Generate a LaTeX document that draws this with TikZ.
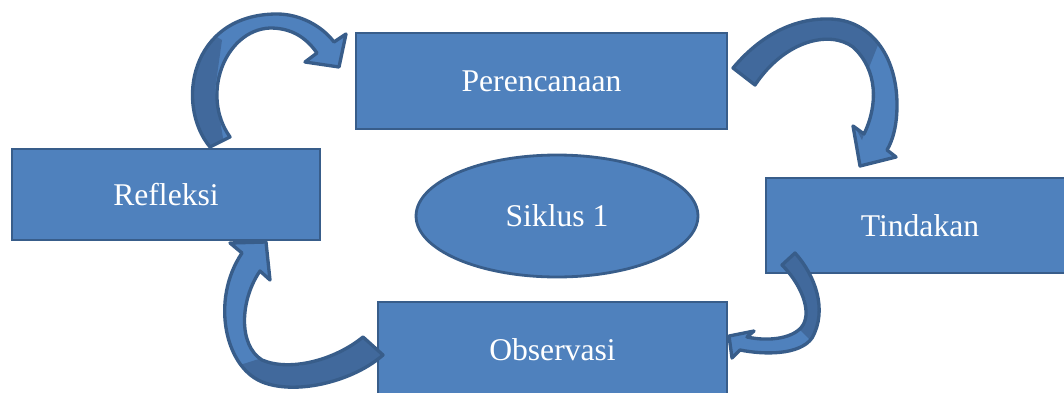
\documentclass[tikz,border=0pt]{standalone}
\usepackage{fontspec}
\setmainfont{Liberation Serif}
\usetikzlibrary{shapes.geometric}
\definecolor{boxblue}{HTML}{4F81BD}
\definecolor{arrowdark}{HTML}{41699C}
\definecolor{edgeblue}{HTML}{385D8A}
\tikzset{
  stage/.style={draw=edgeblue, fill=boxblue, line width=1.6pt, text=white,
    font=\fontsize{18}{20}\selectfont},
  cyclebox/.style={stage, ellipse, minimum width=5.64cm, minimum height=2.44cm},
  arrowedge/.style={draw=edgeblue, line width=1.9pt, line join=round},
}
% curved arrow outlines, in pixel units
\def\arrowRP{(210,147) .. controls (175,105) and (190,14) .. (277,14) .. controls (300,14) and (322,26) .. (334,42) -- (346,34) -- (339,67) -- (305,62) -- (317,53) .. controls (305,36) and (290,28) .. (270,28) .. controls (225,30) and (200,95) .. (230,137) -- cycle}
\def\arrowPT{(733,68) .. controls (765,30) and (800,18) .. (830,19) .. controls (870,20) and (897,55) .. (897,105) .. controls (897,125) and (893,140) .. (887,150) -- (896,157) -- (860,166) -- (853,126) -- (864,134) .. controls (878,105) and (878,70) .. (853,47) .. controls (830,30) and (785,40) .. (755,85) -- cycle}
\def\arrowTO{(795,253) .. controls (815,275) and (828,310) .. (812,338) .. controls (800,355) and (765,355) .. (740,350) -- (732,358) -- (729,336) -- (754,331) -- (747,337) .. controls (770,342) and (795,338) .. (803,325) .. controls (812,310) and (800,283) .. (782,265) -- cycle}
\def\arrowOR{(383,355) .. controls (355,380) and (300,395) .. (265,383) .. controls (225,370) and (210,300) .. (242,253) -- (230,243) -- (266,242) -- (270,280) -- (260,271) .. controls (240,300) and (238,345) .. (262,360) .. controls (290,372) and (335,360) .. (363,337) -- cycle}

\begin{document}
\begin{tikzpicture}[x=0.02cm, y=-0.02cm]
		%%%%% START %%%%%
		\useasboundingbox (0,0) rectangle (1064,392);
		\clip (0,0) rectangle (1064,392);
		
		\node[stage, minimum width=7.42cm, minimum height=1.92cm] (plan) at (541.5,81) {Perencanaan};
		\node[stage, minimum width=6.16cm, minimum height=1.82cm] (refl) at (166,194.5) {Refleksi};
		\node[stage, minimum width=6.16cm, minimum height=1.90cm] (act) at (920,225.5) {Tindakan};
		\node[stage, minimum width=6.98cm, minimum height=1.92cm] (obs) at (552.5,350) {Observasi};
		\node[cyclebox] (cycle) at (557,216) {Siklus 1};
		
		% refleksi -> perencanaan
		\fill[boxblue] \arrowRP;
		\begin{scope}
			\clip \arrowRP;
			\fill[arrowdark] (180,150) -- (180,60) -- (205,30) -- (222,40) -- (215,90) -- (225,150) -- cycle;
		\end{scope}
		\draw[arrowedge] \arrowRP;
		
		% perencanaan -> tindakan
		\fill[boxblue] \arrowPT;
		\begin{scope}
			\clip \arrowPT;
			\fill[arrowdark] (720,100) -- (720,0) -- (860,0) -- (878,45) -- (868,70) -- (872,110) -- (862,140) -- (840,100) -- cycle;
		\end{scope}
		\draw[arrowedge] \arrowPT;
		
		% tindakan -> observasi
		\fill[boxblue] \arrowTO;
		\begin{scope}
			\clip \arrowTO;
			\fill[arrowdark] (770,240) -- (830,240) -- (830,330) -- (812,342) -- (800,330) -- (806,300) -- (790,275) -- cycle;
		\end{scope}
		\draw[arrowedge] \arrowTO;
		
		% observasi -> refleksi
		\fill[boxblue] \arrowOR;
		\begin{scope}
			\clip \arrowOR;
			\fill[arrowdark] (400,330) -- (400,400) -- (240,400) -- (240,365) -- (262,358) -- (300,366) -- (360,335) -- cycle;
		\end{scope}
		\draw[arrowedge] \arrowOR;
		%%%%% END %%%%%
\end{tikzpicture}
\end{document}
